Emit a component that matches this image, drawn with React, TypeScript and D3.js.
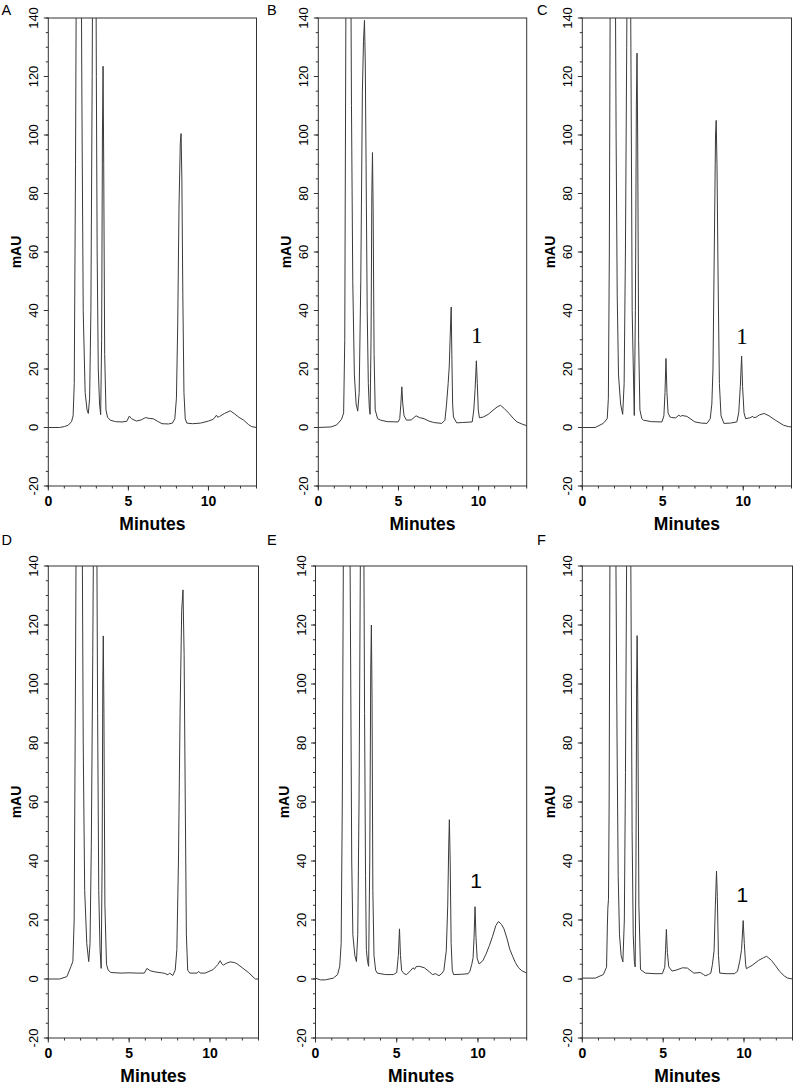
import React from "react";
import * as d3 from "d3";

type Pt = [number, number];

const panelLabels = ["A", "B", "C", "D", "E", "F"];
const yTicks = [-20, 0, 20, 40, 60, 80, 100, 120, 140];
const xTicks = [0, 5, 10];
const xAxisTitle = "Minutes";
const yAxisTitle = "mAU";
const peakName = "1";

const traceA: Pt[] = [[0,0],[0.7,0],[1.0,0.3],[1.25,0.8],[1.45,2],[1.55,4],[1.62,15],[1.7,90],[1.78,200],[1.9,260],[2.02,200],[2.1,110],[2.18,40],[2.3,12],[2.42,6],[2.5,4.8],[2.58,10],[2.66,40],[2.74,120],[2.8,200],[2.9,240],[2.97,170],[3.0,120],[3.05,60],[3.12,20],[3.2,8],[3.27,4.4],[3.33,30],[3.38,100],[3.42,123.5],[3.46,90],[3.52,25],[3.6,6],[3.7,3.5],[3.87,2.5],[4.2,2.0],[4.6,1.9],[4.9,2.1],[5.06,3.9],[5.2,3.0],[5.5,2.2],[5.8,2.6],[6.07,3.4],[6.3,3.1],[6.55,3.0],[6.8,2.2],[7.1,1.3],[7.5,1.2],[7.75,1.5],[7.9,3],[8.0,10],[8.08,35],[8.16,75],[8.24,97],[8.29,100.5],[8.34,85],[8.4,45],[8.47,12],[8.55,3],[8.65,1.5],[9.0,1.3],[9.5,1.5],[10.0,2.2],[10.3,2.8],[10.5,4.2],[10.58,3.5],[10.7,3.8],[11.0,4.8],[11.36,5.7],[11.6,4.8],[11.9,3.5],[12.2,2.5],[12.5,1.0],[12.7,0.3],[13.0,0]];

const traceB: Pt[] = [[0,0],[0.8,0.2],[1.15,0.9],[1.45,2.8],[1.58,5],[1.65,30],[1.72,140],[1.8,250],[1.95,260],[2.0,190],[2.07,110],[2.15,50],[2.25,18],[2.36,8],[2.46,5.6],[2.55,12],[2.65,50],[2.75,115],[2.82,132],[2.88,139.2],[2.93,125],[2.98,90],[3.05,40],[3.12,15],[3.18,7],[3.23,4.5],[3.29,30],[3.34,80],[3.38,94],[3.42,75],[3.48,25],[3.55,6],[3.7,3],[3.9,2.5],[4.3,2.0],[4.98,1.9],[5.08,3],[5.15,8],[5.21,13.9],[5.27,8],[5.35,4],[5.5,2.5],[5.8,2.6],[6.1,4.0],[6.3,3.4],[6.6,3.0],[6.9,2.2],[7.2,1.7],[7.7,1.4],[7.9,2.5],[8.0,8],[8.1,15],[8.17,21],[8.22,30],[8.29,41.2],[8.33,25],[8.38,8],[8.43,3.6],[8.63,1.6],[9.0,1.7],[9.6,1.9],[9.7,6],[9.78,13],[9.86,22.8],[9.92,15],[9.98,6],[10.05,3.3],[10.3,3.6],[10.6,4.5],[10.9,5.9],[11.15,7.0],[11.36,7.6],[11.6,6.5],[11.9,4.8],[12.15,3.2],[12.4,1.9],[12.7,1.2],[13.0,0.6]];

const traceC: Pt[] = [[0,0],[0.8,0],[1.3,1.4],[1.55,3],[1.62,10],[1.68,60],[1.74,160],[1.85,260],[1.98,220],[2.05,160],[2.1,100],[2.17,45],[2.25,18],[2.38,8],[2.51,4.5],[2.6,15],[2.68,60],[2.76,130],[2.85,220],[2.95,200],[3.02,130],[3.1,40],[3.17,20],[3.23,4.1],[3.3,40],[3.36,110],[3.4,128],[3.44,100],[3.5,30],[3.58,6],[3.7,3.0],[3.8,2.5],[4.3,2.0],[4.95,1.9],[5.07,4],[5.14,12],[5.2,23.6],[5.26,12],[5.33,5],[5.45,3.6],[5.55,3.4],[5.8,3.3],[6.0,4.2],[6.1,3.8],[6.2,4.1],[6.5,3.8],[7.0,1.9],[7.4,1.5],[7.75,1.4],[7.95,3],[8.05,8],[8.12,20],[8.2,60],[8.28,100],[8.32,105],[8.37,90],[8.44,50],[8.52,15],[8.62,4],[8.8,1.4],[9.2,1.5],[9.6,1.9],[9.72,5],[9.82,14],[9.9,24.4],[9.96,14],[10.05,5],[10.15,3.0],[10.4,3.3],[10.6,3.8],[10.65,3.4],[10.8,3.5],[11.0,4.3],[11.3,4.8],[11.6,4.0],[12.0,2.5],[12.5,0.8],[12.8,0.3],[13.0,0.2]];

const traceD: Pt[] = [[0,0],[0.7,0],[1.15,0.8],[1.4,4.2],[1.52,6],[1.6,20],[1.68,100],[1.76,200],[1.9,270],[2.02,220],[2.1,150],[2.16,80],[2.25,30],[2.38,12],[2.5,5.9],[2.58,12],[2.66,45],[2.75,110],[2.83,180],[2.92,230],[3.0,150],[3.05,90],[3.12,30],[3.2,10],[3.27,3.6],[3.33,40],[3.37,100],[3.4,116.3],[3.44,90],[3.5,25],[3.6,5],[3.7,3.0],[3.87,2.2],[4.5,2.0],[5.0,2.1],[5.5,2.0],[5.94,2.0],[6.1,3.6],[6.3,2.8],[6.6,2.4],[7.0,2.1],[7.2,1.9],[7.4,1.4],[7.5,2.0],[7.7,1.2],[7.85,3],[7.95,10],[8.05,40],[8.15,90],[8.25,125],[8.33,131.9],[8.4,110],[8.47,60],[8.54,15],[8.62,3],[8.75,2.0],[9.2,2.0],[9.3,2.6],[9.4,2.0],[9.7,2.0],[10.2,3.2],[10.5,5.0],[10.63,6.2],[10.75,5.0],[10.83,4.7],[11.0,5.3],[11.25,5.8],[11.5,5.6],[11.66,5.2],[12.0,3.8],[12.4,2.1],[12.8,0],[13.0,0]];

const traceE: Pt[] = [[0,0.3],[0.3,-0.3],[0.6,-0.3],[1.1,0.3],[1.36,1.5],[1.49,4.3],[1.58,12],[1.65,60],[1.72,150],[1.85,260],[2.0,230],[2.1,170],[2.17,100],[2.23,40],[2.3,15],[2.42,8],[2.52,5.9],[2.6,15],[2.68,60],[2.76,140],[2.85,220],[2.95,180],[3.02,90],[3.08,35],[3.13,10],[3.2,6],[3.27,4.3],[3.34,40],[3.4,105],[3.44,120],[3.48,95],[3.53,30],[3.6,8],[3.7,3],[3.8,2.0],[4.3,1.5],[4.8,1.5],[5.0,2.2],[5.1,8],[5.17,17],[5.23,8],[5.3,2.9],[5.45,1.8],[5.6,1.5],[5.8,2.5],[6.0,3.8],[6.1,3.3],[6.2,4.2],[6.4,4.3],[6.7,3.8],[7.0,2.5],[7.2,1.5],[7.4,1.8],[7.6,1.1],[7.8,2.0],[7.9,2.9],[8.05,9.6],[8.14,25],[8.2,45],[8.24,54],[8.29,40],[8.35,12],[8.42,3],[8.5,1.5],[9.0,1.6],[9.4,1.8],[9.5,2.6],[9.62,5],[9.7,7.2],[9.76,14],[9.82,24.5],[9.88,14],[9.95,7],[10.07,5.1],[10.3,6.2],[10.5,8.5],[10.7,11.3],[10.9,14.5],[11.1,18.1],[11.26,19.5],[11.45,18.5],[11.6,17],[11.8,13.5],[11.95,10.2],[12.15,7.5],[12.3,5.6],[12.5,3.8],[12.7,2.8],[13.0,2.0]];

const traceF: Pt[] = [[0,0.3],[0.8,0.3],[1.3,1.5],[1.5,4],[1.55,18],[1.58,24],[1.62,27],[1.66,60],[1.72,160],[1.85,260],[1.98,220],[2.07,150],[2.15,80],[2.22,35],[2.3,15],[2.4,8],[2.51,5.8],[2.6,20],[2.67,70],[2.74,140],[2.83,230],[2.95,200],[3.02,120],[3.08,50],[3.15,15],[3.22,6],[3.27,4.1],[3.32,40],[3.36,100],[3.39,116.4],[3.43,95],[3.5,25],[3.6,3.2],[3.9,2.0],[4.5,1.8],[4.95,1.8],[5.1,4],[5.15,10],[5.2,16.8],[5.26,9],[5.35,4.1],[5.55,2.7],[5.8,3.0],[6.05,3.5],[6.2,3.8],[6.5,3.7],[6.9,2.0],[7.3,2.2],[7.5,1.5],[7.6,1.1],[7.8,1.5],[7.95,2.0],[8.05,5],[8.15,9.6],[8.23,25],[8.3,36.6],[8.35,28],[8.42,8],[8.5,2.0],[8.9,1.8],[9.4,1.8],[9.6,2.6],[9.75,6.4],[9.85,10],[9.95,19.8],[10.02,12],[10.1,5],[10.15,3.5],[10.3,4.0],[10.5,4.6],[10.9,6.3],[11.2,7.2],[11.4,7.7],[11.7,6.3],[11.95,4.5],[12.2,2.6],[12.5,1.0],[12.7,0.3],[13.0,0]];

// peak "1" annotation: [minutes, mAU] of label baseline; null = none
const peakLabelAt: (Pt | null)[] = [null, [9.89, 28.8], [9.93, 28.5], null, [9.88, 31], [9.9, 26]];

const traces = [traceA, traceB, traceC, traceD, traceE, traceF];

// layout (pixel geometry, not data)
const frames = [
  { left: 48.3, right: 256.5, top: 18, bottom: 486, lx: 1.5, ly: 15, serif: false },
  { left: 318.3, right: 526.7, top: 18, bottom: 486, lx: 267, ly: 15, serif: true },
  { left: 582.3, right: 791.5, top: 18, bottom: 486, lx: 537, ly: 15, serif: true },
  { left: 48.3, right: 258.5, top: 566, bottom: 1038, lx: 1.5, ly: 545, serif: false },
  { left: 315.5, right: 526.7, top: 566, bottom: 1038, lx: 267, ly: 545, serif: false },
  { left: 582.3, right: 792.5, top: 566, bottom: 1038, lx: 537, ly: 545, serif: false },
];

const SANS = "'Liberation Sans', Arial, sans-serif";
const SERIF = "'Liberation Serif', 'Times New Roman', serif";
const AXIS = "#333";
const LINE = "#3a3a3a";

function Panel({ i }: { i: number }) {
  const f = frames[i];
  const x = d3.scaleLinear().domain([0, 13]).range([f.left, f.right]);
  const y = d3.scaleLinear().domain([-20, 140]).range([f.bottom, f.top]);
  const line = d3.line<Pt>().x((d) => x(d[0])).y((d) => y(d[1]));
  const yMinor = d3.range(-20, 140.1, 5);
  const xMinor = d3.range(0, 13.01, 1);
  const clipId = `clip${i}`;
  const lab = peakLabelAt[i];
  return (
    <g>
      <defs>
        <clipPath id={clipId}>
          <rect x={f.left} y={f.top} width={f.right - f.left} height={f.bottom - f.top} />
        </clipPath>
      </defs>
      <text x={f.lx} y={f.ly} fontFamily={SANS} fontSize={14.5}>{panelLabels[i]}</text>
      <rect x={f.left} y={f.top} width={f.right - f.left} height={f.bottom - f.top} fill="none" stroke={AXIS} strokeWidth={1} />
      {yMinor.map((v) => (
        <line key={"ym" + v} x1={f.left - 2.5} x2={f.left} y1={y(v)} y2={y(v)} stroke={AXIS} strokeWidth={1} />
      ))}
      {yTicks.map((v) => (
        <g key={"y" + v}>
          <line x1={f.left - 4.5} x2={f.left} y1={y(v)} y2={y(v)} stroke={AXIS} strokeWidth={1} />
          <text transform={`translate(${f.left - 10},${y(v)}) rotate(-90)`} textAnchor="middle" fontFamily={SANS} fontSize={13}>{v}</text>
        </g>
      ))}
      {xMinor.map((v) => (
        <line key={"xm" + v} x1={x(v)} x2={x(v)} y1={f.bottom} y2={f.bottom + 2.5} stroke={AXIS} strokeWidth={1} />
      ))}
      {xTicks.map((v) => (
        <g key={"x" + v}>
          <line x1={x(v)} x2={x(v)} y1={f.bottom} y2={f.bottom + 4.5} stroke={AXIS} strokeWidth={1} />
          <text x={x(v)} y={f.bottom + 19.5} textAnchor="middle" fontFamily={SANS} fontSize={14} fontWeight="bold">{v}</text>
        </g>
      ))}
      <text x={(f.left + f.right) / 2} y={f.bottom + 44} textAnchor="middle" fontFamily={SANS} fontSize={17.5} fontWeight="bold">{xAxisTitle}</text>
      <text transform={`translate(${f.left - 27},${(f.top + f.bottom) / 2}) rotate(-90)`} textAnchor="middle" fontFamily={SANS} fontSize={14} fontWeight="bold">{yAxisTitle}</text>
      <path d={line(traces[i]) || ""} fill="none" stroke={LINE} strokeWidth={1} clipPath={`url(#${clipId})`} />
      {lab && (
        <text x={x(lab[0])} y={y(lab[1])} textAnchor="middle" fontFamily={f.serif ? SERIF : SANS} fontSize={f.serif ? 23 : 21}>{peakName}</text>
      )}
    </g>
  );
}

export default function App() {
  return (
    <svg width={800} height={1092} style={{ position: "absolute", left: 0, top: 0, background: "#fff" }}>
      <rect width={800} height={1092} fill="#fff" />
      {panelLabels.map((_, i) => (
        <Panel key={i} i={i} />
      ))}
    </svg>
  );
}
